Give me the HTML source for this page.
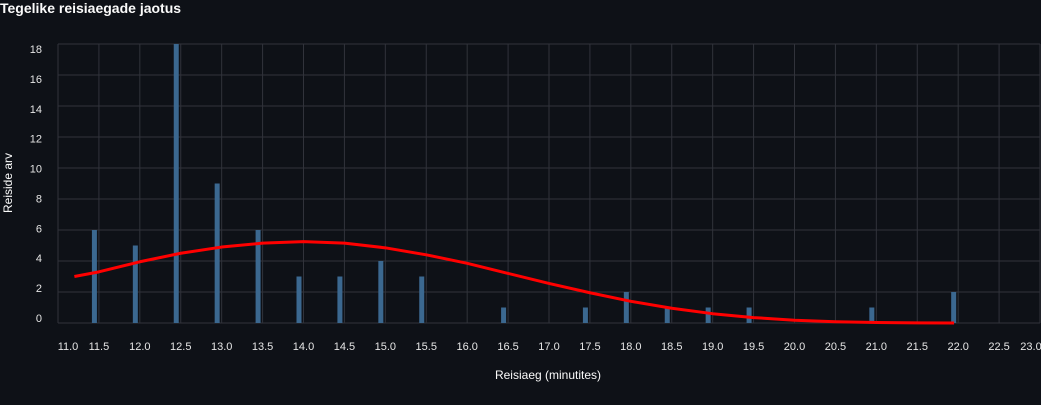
<!DOCTYPE html>
<html><head><meta charset="utf-8"><style>
body{margin:0;background:#0e1117;width:1041px;height:400px;overflow:hidden;font-family:"Liberation Sans",sans-serif}
</style></head><body>
<svg id="chart" width="1041" height="400" xmlns="http://www.w3.org/2000/svg">
<rect width="1041" height="400" fill="#0e1117"/>
<text x="0" y="13" fill="#fafafa" font-size="14" font-weight="bold">Tegelike reisiaegade jaotus</text>
<g id="grid"></g><g id="bars"></g><g id="curve"></g><g id="axes"></g>
<text x="548" y="379" fill="#fafafa" font-size="12" text-anchor="middle">Reisiaeg (minutites)</text>
<text transform="translate(12,183) rotate(-90)" fill="#fafafa" font-size="12" text-anchor="middle">Reiside arv</text>
</svg>
<script>
const binValues=[11.5,12,12.5,13,13.5,14,14.5,15,15.5,16.5,17.5,18,18.5,19,19.5,21,22];
const binCounts=[6,5,18,9,6,3,3,4,3,1,1,2,1,1,1,1,2];
const curveX=[11.2,11.5,12,12.5,13,13.5,14,14.5,15,15.5,16,16.5,17,17.5,18,18.5,19,19.5,20,20.5,21,21.5,21.95];
const curveY=[3.0,3.3,3.95,4.5,4.9,5.15,5.25,5.15,4.85,4.4,3.85,3.2,2.55,1.95,1.4,0.95,0.6,0.35,0.18,0.08,0.03,0.01,0];
const xTicks=[11.0,11.5,12.0,12.5,13.0,13.5,14.0,14.5,15.0,15.5,16.0,16.5,17.0,17.5,18.0,18.5,19.0,19.5,20.0,20.5,21.0,21.5,22.0,22.5,23.0];
const yTicks=[0,2,4,6,8,10,12,14,16,18];
const NS="http://www.w3.org/2000/svg";
const L=58,R=1040,T=44,B=323;
const sx=v=>L+(v-11)*(R-L)/12;
const sy=v=>B-v*(B-T)/18;
const syLabel=v=>318-v*(318-49)/18;
function mk(t,a,p){const e=document.createElementNS(NS,t);for(const k in a)e.setAttribute(k,a[k]);p.appendChild(e);return e;}
const grid=document.getElementById('grid'),bars=document.getElementById('bars'),axes=document.getElementById('axes'),curve=document.getElementById('curve');
xTicks.forEach(v=>{
 const l=mk('line',{x1:sx(v),x2:sx(v),y1:T,y2:B,stroke:'#31333b','stroke-width':1},grid);
 
 
 let x=Math.min(Math.max(sx(v),68),1031);
 const t=mk('text',{x:x,y:350,fill:'#e6e6e6','font-size':11,'text-anchor':'middle'},axes);
 t.textContent=v.toFixed(1);
 
 
});
yTicks.forEach(v=>{
 const l=mk('line',{x1:L,x2:R,y1:sy(v),y2:sy(v),stroke:'#31333b','stroke-width':1},grid);
 
 
 const t=mk('text',{x:42,y:syLabel(v)+4,fill:'#e6e6e6','font-size':11,'text-anchor':'end'},axes);
 t.textContent=v;
 
 
});
binValues.forEach((v,i)=>{
 const cx=sx(v)-4.5;
 const r=mk('rect',{x:cx-2.5,y:sy(binCounts[i]),width:5,height:B-sy(binCounts[i]),fill:'#3b6890'},bars);
 
 
});
const pl=mk('polyline',{points:curveX.map((x,i)=>sx(x)+','+sy(curveY[i])).join(' '),fill:'none',stroke:'#ff0000','stroke-width':3,'stroke-linejoin':'round'},curve);


</script>
</body></html>
